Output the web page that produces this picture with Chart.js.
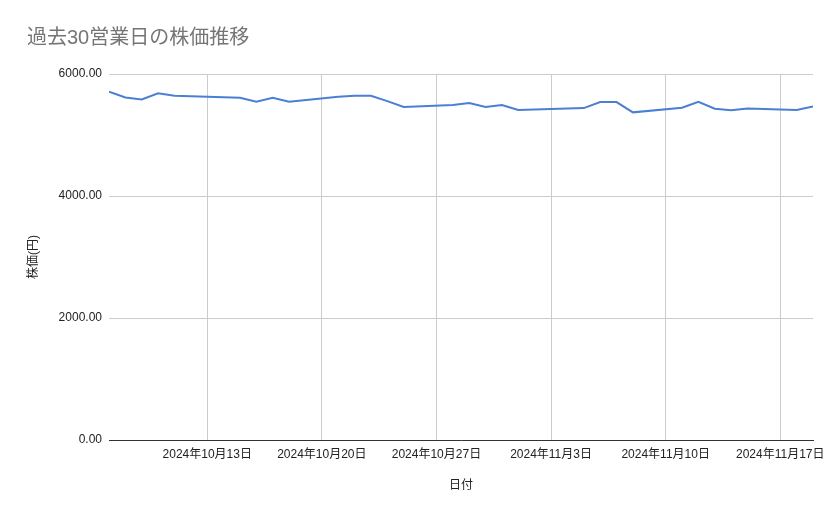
<!DOCTYPE html>
<html lang="ja">
<head>
<meta charset="utf-8">
<title>過去30営業日の株価推移</title>
<script src="https://cdn.jsdelivr.net/npm/chart.js@4.4.1/dist/chart.umd.min.js"></script>
<style>
  html, body { margin: 0; padding: 0; background: #fff; }
  #wrap { width: 839px; height: 519px; }
</style>
</head>
<body>
<div id="wrap"><canvas id="stockChart"></canvas></div>
<script>
// 過去30営業日の終値 (祝日 10/14, 11/4 は休場)
const dates = [
    '2024-10-07', '2024-10-08', '2024-10-09', '2024-10-10', '2024-10-11',
    '2024-10-15', '2024-10-16', '2024-10-17', '2024-10-18',
    '2024-10-21', '2024-10-22', '2024-10-23', '2024-10-24', '2024-10-25',
    '2024-10-28', '2024-10-29', '2024-10-30', '2024-10-31', '2024-11-01',
    '2024-11-05', '2024-11-06', '2024-11-07', '2024-11-08',
    '2024-11-11', '2024-11-12', '2024-11-13', '2024-11-14', '2024-11-15',
    '2024-11-18', '2024-11-19'
];
const prices = [
    5709, 5616, 5584, 5683, 5644,
    5611, 5545, 5611, 5545,
    5627, 5644, 5644, 5556, 5458,
    5491, 5525, 5458, 5491, 5409,
    5441, 5540, 5540, 5371,
    5447, 5545, 5431, 5404, 5436,
    5409, 5469
];
const tickDates = ['2024-10-13', '2024-10-20', '2024-10-27', '2024-11-03', '2024-11-10', '2024-11-17'];
const yMin = 0;
const yMax = 6000;
const yStep = 2000;

const FONT = "'Liberation Sans', Arial, 'Noto Sans CJK JP', sans-serif";

// date string -> day number (UTC)
function dayNum(s) {
    return Date.parse(s + 'T00:00:00Z') / 86400000;
}

function jpDate(v) {
    const d = new Date(v * 86400000);
    return d.getUTCFullYear() + '年' + (d.getUTCMonth() + 1) + '月' + d.getUTCDate() + '日';
}

const points = dates.map((d, i) => ({ x: dayNum(d), y: prices[i] }));

// chart title drawn top-left like the sheet chart
const titlePlugin = {
    id: 'sheetTitle',
    afterDraw(chart) {
        const ctx = chart.ctx;
        ctx.save();
        ctx.font = "20px " + FONT;
        ctx.fillStyle = '#757575';
        ctx.textBaseline = 'middle';
        ctx.textAlign = 'left';
        ctx.fillText('過去30営業日の株価推移', 27, 38);
        ctx.restore();
    }
};

const ctx = document.getElementById('stockChart').getContext('2d');

new Chart(ctx, {
    type: 'line',
    data: {
        datasets: [{
            label: '株価',
            data: points,
            borderColor: '#4a7fd4',
            borderWidth: 2,
            pointRadius: 0,
            tension: 0,
            fill: false
        }]
    },
    options: {
        responsive: true,
        maintainAspectRatio: false,
        animation: false,
        layout: { padding: { top: 74, right: 26, left: 0, bottom: 0 } },
        plugins: {
            legend: { display: false },
            tooltip: { enabled: false }
        },
        scales: {
            x: {
                type: 'linear',
                min: dayNum(dates[0]),
                max: dayNum(dates[dates.length - 1]),
                afterBuildTicks: (scale) => {
                    scale.ticks = tickDates.map(d => ({ value: dayNum(d) }));
                },
                afterFit: (scale) => { scale.height = 79; },
                grid: { color: '#cccccc', drawTicks: false },
                border: { display: true, color: '#333333', width: 1 },
                ticks: {
                    autoSkip: false,
                    maxRotation: 0,
                    padding: 7,
                    color: '#222222',
                    font: { family: FONT, size: 12 },
                    callback: (v) => jpDate(v)
                },
                title: {
                    display: true,
                    text: '日付',
                    color: '#222222',
                    font: { family: FONT, size: 12 },
                    padding: { top: 0, bottom: 26 }
                }
            },
            y: {
                min: yMin,
                max: yMax,
                afterFit: (scale) => { scale.width = 109; },
                grid: { color: '#cccccc', drawTicks: false },
                border: { display: false },
                ticks: {
                    stepSize: yStep,
                    padding: 7,
                    color: '#222222',
                    font: { family: FONT, size: 12 },
                    callback: (v) => v.toFixed(2)
                },
                title: {
                    display: true,
                    text: '株価(円)',
                    color: '#222222',
                    font: { family: FONT, size: 12 },
                    padding: { top: 26, bottom: 0 }
                }
            }
        }
    },
    plugins: [titlePlugin]
});
</script>
</body>
</html>
